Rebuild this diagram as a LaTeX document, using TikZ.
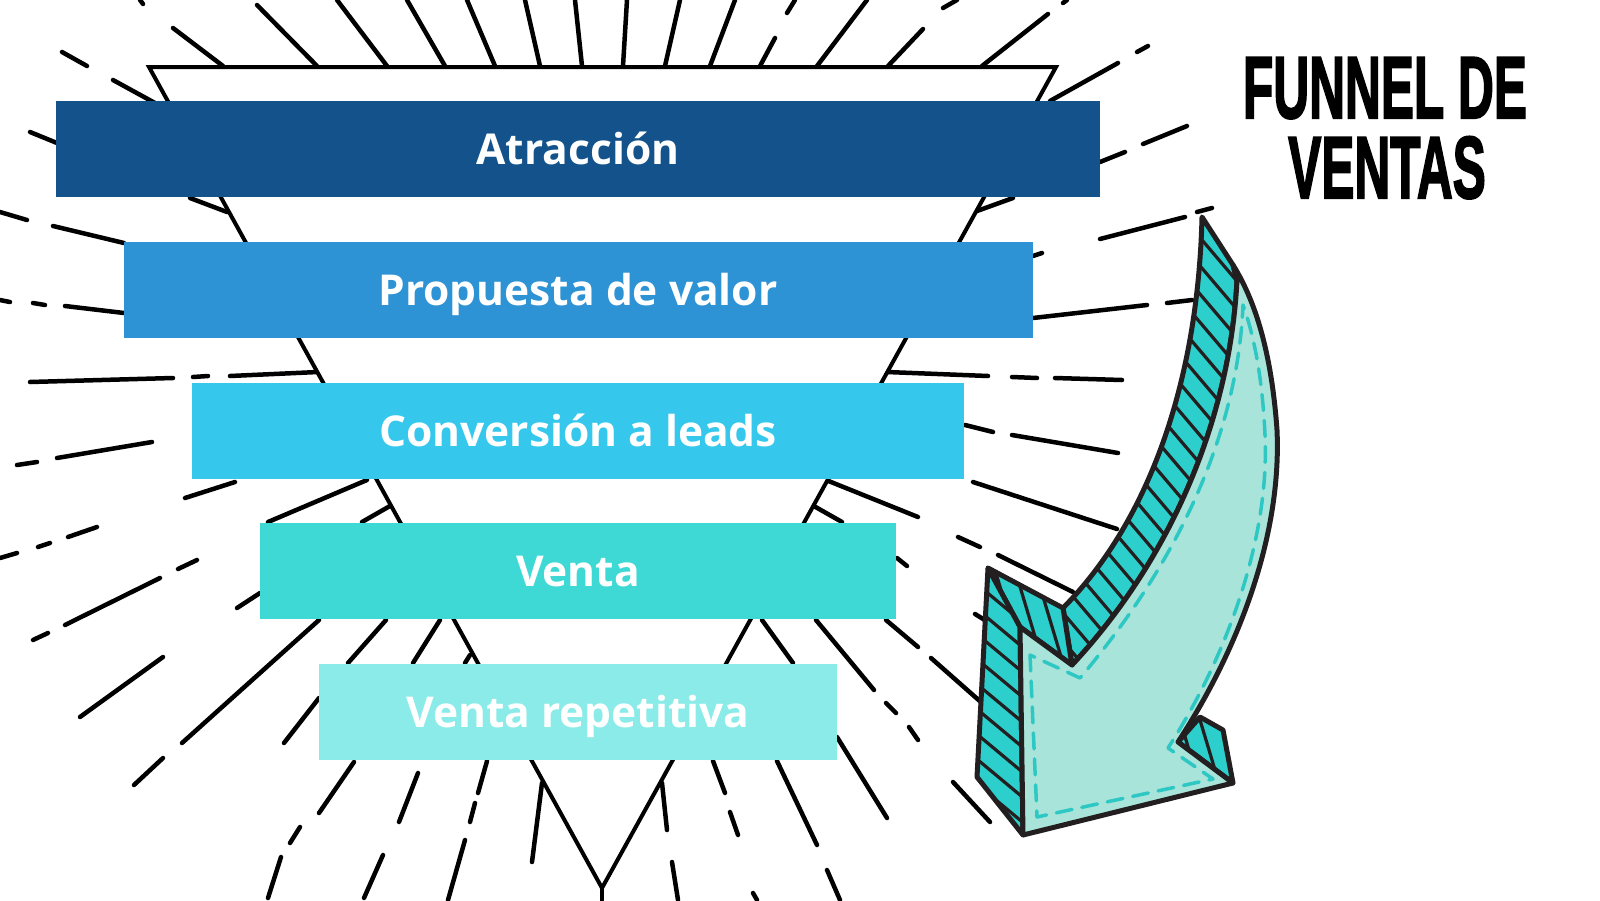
\documentclass[tikz,border=0pt]{standalone}
\usepackage{fontspec}
\setmainfont{Open Sans}
\newfontfamily\titlefont[BoldFeatures={FakeBold=2.5}]{Liberation Sans}
\definecolor{atraccioncol}{HTML}{13528A}
\definecolor{propuestacol}{HTML}{2E93D5}
\definecolor{conversioncol}{HTML}{36C7ED}
\definecolor{ventacol}{HTML}{3FD9D5}
\definecolor{repetitivacol}{HTML}{8AEBE8}
\definecolor{arrowside}{HTML}{2CCFCB}
\definecolor{arrowface}{HTML}{A9E4DA}
\definecolor{arrowline}{HTML}{231F20}
\definecolor{stitch}{HTML}{2EC8C4}
\tikzset{
  stage/.style={rectangle, inner sep=0pt, minimum height=96pt, text=white,
    text height=30pt, text depth=0pt, font=\fontsize{42.5}{50}\selectfont\bfseries},
  ray/.style={line width=4.5pt, line cap=round},
  funnel/.style={draw=black, fill=white, line width=4pt},
  edge/.style={draw=arrowline, line width=5pt, line join=round},
  hatch/.style={draw=arrowline, line width=3.2pt},
  stitchline/.style={draw=stitch, line width=3.5pt, dash pattern=on 16pt off 10pt, line cap=round, line join=round},
  title/.style={anchor=base, inner sep=0pt, font=\titlefont\bfseries\fontsize{88}{90}\selectfont}
}
% side piece of the arrow: path, hatch slope (dx per dy), hatch spacing
\newcommand\hatchpiece[3]{%
  \fill[arrowside] #1 -- cycle;
  \begin{scope}
    \clip #1 -- cycle;
    \foreach \k in {0,...,40}
      \draw[hatch] ({600+\k*#3-400*#2},120) -- ({600+\k*#3+400*#2},920);
  \end{scope}
  \draw[edge] #1 -- cycle;}
\begin{document}
\begin{tikzpicture}[x=1pt,y=-1pt]
\useasboundingbox (0,0) rectangle (1600,900);

% sunburst
\foreach \xa/\ya/\xb/\yb in {140/0/143/4, 173/28/223/66, 257/5/317/66, 337/0/387/66,
  407/0/445/66, 467/0/495/66, 525/0/540/66, 575/0/582/66, 627/0/623/66, 680/0/665/66,
  735/0/710/66, 795/0/787/13, 775/38/760/66, 867/0/817/66, 957/0/943/8, 923/29/888/66,
  1067/0/1063/3, 1048/14/982/66, 1148/46/1137/52, 1118/63/1050/101,
  62/52/87/66, 113/80/155/103, 30/132/57/143,
  1187/126/1143/144, 1125/152/1100/162, 190/198/227/212, 1013/198/977/211,
  0/212/27/220, 53/226/124/243, 0/300/10/302, 33/303/45/305, 65/306/124/313,
  1033/256/1042/253, 1100/239/1185/217, 1197/212/1212/208,
  1033/318/1147/305, 1167/303/1192/300,
  30/382/173/378, 193/377/208/376, 230/376/318/372,
  887/372/988/376, 1012/377/1037/378, 1055/378/1122/380,
  17/465/37/462, 57/458/152/442, 965/425/993/432, 1012/435/1118/453,
  185/498/235/482, 268/522/367/480, 362/522/390/506,
  826/480/918/517, 958/537/980/547, 998/555/1073/592,
  812/505/842/522, 897/558/907/566, 975/614/988/622, 973/482/1117/529,
  0/558/17/553, 38/547/50/543, 68/537/97/527,
  33/640/48/633, 65/625/160/578, 178/569/197/560, 237/608/260/593,
  80/717/163/657, 134/785/163/758, 182/743/319/620,
  348/663/386/620, 284/743/319/698, 413/663/440/620, 465/663/470/655,
  762/620/793/663, 816/620/874/690, 886/703/896/713, 909/727/918/740,
  886/620/918/647, 931/658/982/703, 837/737/887/818, 953/782/990/822,
  354/762/319/813, 300/827/290/843, 281/857/268/898,
  418/773/399/822, 383/855/364/898,
  487/761/478/793, 475/803/470/822, 465/840/448/900,
  542/783/532/862, 602/888/602/900, 662/783/667/830, 672/862/678/900,
  713/761/725/793, 730/812/738/835, 753/893/757/900,
  777/761/817/845, 827/870/840/900}
  \draw[ray] (\xa,\ya) -- (\xb,\yb);

% funnel
\coordinate (topleft) at (149,67);
\coordinate (topright) at (1056,67);
\coordinate (apex) at (602,888);
\draw[funnel] (topleft) -- (topright) -- (apex) -- cycle;

% stages
\node[stage, fill=atraccioncol, minimum width=1044pt] (atraccion) at (578,149) {Atracción};
\node[stage, fill=propuestacol, minimum width=909pt] (propuesta) at (578,290) {Propuesta de valor};
\node[stage, fill=conversioncol, minimum width=772pt] (conversion) at (578,431) {Conversión a leads};
\node[stage, fill=ventacol, minimum width=636pt] (venta) at (578,571) {Venta};
\node[stage, fill=repetitivacol, minimum width=518pt] (repetitiva) at (578,712) {Venta repetitiva};

% arrow
\hatchpiece{(1202,217) .. controls (1198,380) and (1150,520) .. (1063,608) -- (1072,665)
  .. controls (1170,560) and (1230,420) .. (1237,280) -- (1233,265)}{0.85}{24}
\hatchpiece{(988,568) -- (1063,608) -- (1072,665) -- (1020,627)}{0.3}{20}
\hatchpiece{(988,568) -- (1020,627) -- (1023,835) -- (977,777)}{1.2}{30}
\hatchpiece{(1178,742) -- (1200,717) -- (1223,730) -- (1233,783)}{0.3}{20}
\draw[edge, fill=arrowface] (1233,265) -- (1237,280) .. controls (1230,420) and (1170,560) .. (1072,665)
  -- (1020,627) -- (1023,835) -- (1233,783) -- (1178,742)
  .. controls (1235,655) and (1282,540) .. (1277,430)
  .. controls (1272,360) and (1258,305) .. (1233,265) -- cycle;
\draw[stitchline] (1030,655) -- (1037,817) -- (1213,779) -- (1168,748)
  .. controls (1225,660) and (1270,540) .. (1265,435)
  .. controls (1262,370) and (1252,330) .. (1243,305)
  .. controls (1238,430) and (1180,560) .. (1080,678) -- cycle;

% title
\node[title] (funnel) at (1385,118) {\scalebox{0.564}[1]{FUNNEL DE}};
\node[title] (ventas) at (1387,198) {\scalebox{0.564}[1]{VENTAS}};
\end{tikzpicture}
\end{document}
